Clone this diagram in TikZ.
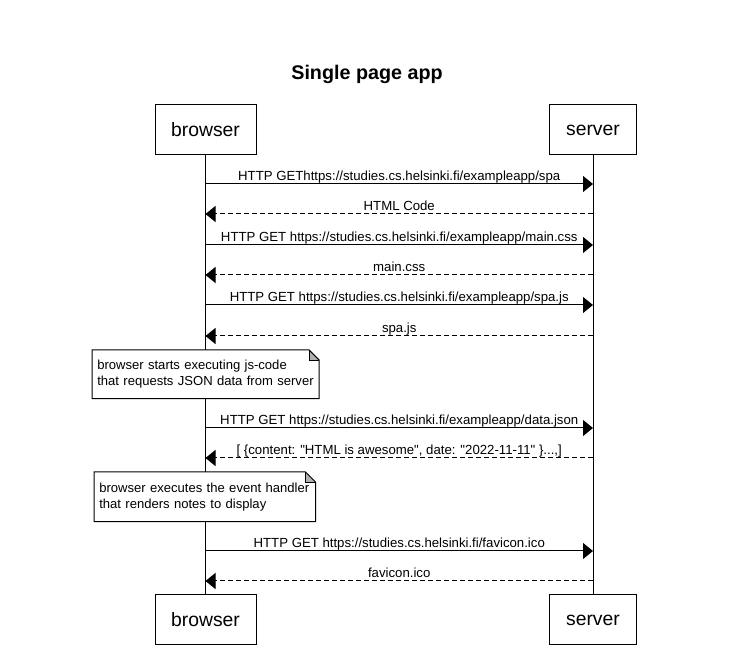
\documentclass[tikz,border=0pt]{standalone}
\usepackage{fontspec}
\setmainfont{Liberation Sans}
\usetikzlibrary{arrows.meta}
\tikzset{
  actor/.style={draw,line width=0.75pt,minimum height=37.5pt,font=\fontsize{14.5}{17}\selectfont},
  msg/.style={line width=0.75pt,-{Triangle[length=7.5pt,width=12pt]}},
  reply/.style={msg,dash pattern=on 3.5pt off 2.5pt},
  msglabel/.style={midway,above,inner sep=0.3pt,text height=7.5pt,text depth=2pt,font=\fontsize{9.9}{12}\selectfont},
  notebox/.style={anchor=north west,fill=white,align=left,inner xsep=3.75pt,font=\fontsize{9.8}{12}\selectfont}
}
\begin{document}
\begin{tikzpicture}[x=0.75pt,y=-0.75pt,line cap=butt,line join=miter]
	\useasboundingbox (0,0) rectangle (733,659);
	\node[font=\bfseries\fontsize{14.8}{17}\selectfont] (title) at (367,74) {Single page app};
	% actors
	\node[actor,minimum width=75.75pt] (btop) at (205.5,130) {browser};
	\node[actor,minimum width=65.25pt] (stop) at (593,130) {server};
	\node[actor,minimum width=75.75pt] (bbot) at (205.5,620) {browser};
	\node[actor,minimum width=65.25pt] (sbot) at (593,620) {server};
	\draw[line width=0.75pt] (btop) -- (bbot);
	\draw[line width=0.75pt] (stop) -- (sbot);
	% messages
	\foreach \i/\y/\sty/\from/\to/\txt in {
		1/184/msg/b/s/{HTTP GEThttps://studies.cs.helsinki.fi/exampleapp/spa},
		2/214/reply/s/b/{HTML Code},
		3/245/msg/b/s/{HTTP GET https://studies.cs.helsinki.fi/exampleapp/main.css},
		4/275/reply/s/b/{main.css},
		5/305/msg/b/s/{HTTP GET https://studies.cs.helsinki.fi/exampleapp/spa.js},
		6/336/reply/s/b/{spa.js},
		7/428/msg/b/s/{HTTP GET https://studies.cs.helsinki.fi/exampleapp/data.json},
		8/458/reply/s/b/{[ \{content: \textquotedbl HTML is awesome\textquotedbl, date: \textquotedbl 2022-11-11\textquotedbl\ \}...,]},
		9/551/msg/b/s/{HTTP GET https://studies.cs.helsinki.fi/favicon.ico},
		10/581/reply/s/b/{favicon.ico}}{
		\coordinate (b\i) at (205.5,\y);
		\coordinate (s\i) at (593,\y);
		\draw[\sty] (\from\i) -- (\to\i) node[msglabel]{\txt};
	}
	% notes
	\node[notebox,minimum width=170pt,minimum height=36pt,text width=162.5pt] (note1) at (92,350)
		{browser starts executing js-code\\that requests JSON data from server};
	\node[notebox,minimum width=165.75pt,minimum height=36.75pt,text width=158.25pt] (note2) at (94,472)
		{browser executes the event handler\\that renders notes to display};
	\foreach \n in {note1,note2}{
		\fill[gray!60] ([xshift=-7.5pt]\n.north east) -- ([xshift=-7.5pt,yshift=-7.5pt]\n.north east) -- ([yshift=-7.5pt]\n.north east) -- cycle;
		\draw[line width=0.75pt] (\n.north west) -- ([xshift=-7.5pt]\n.north east) -- ([yshift=-7.5pt]\n.north east) -- (\n.south east) -- (\n.south west) -- cycle;
		\draw[line width=0.5pt] ([xshift=-7.5pt]\n.north east) -- ([xshift=-7.5pt,yshift=-7.5pt]\n.north east) -- ([yshift=-7.5pt]\n.north east);
	}
\end{tikzpicture}
\end{document}
